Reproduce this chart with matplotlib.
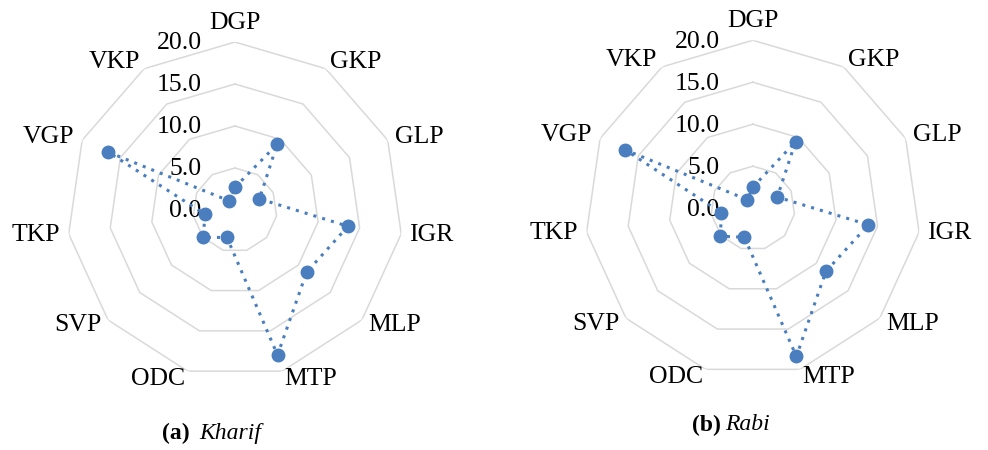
import numpy as np
import matplotlib.pyplot as plt

plt.rcParams['font.family'] = ['Liberation Serif', 'DejaVu Serif']

# Sites (clockwise from top)
sites = ['DGP', 'GKP', 'GLP', 'IGR', 'MLP', 'MTP', 'ODC', 'SVP', 'TKP', 'VGP', 'VKP']

# values
kharif = [2.7, 9.3, 3.2, 13.6, 11.3, 18.0, 3.4, 5.0, 3.6, 16.6, 1.3]
rabi = [2.5, 9.4, 3.2, 13.9, 11.5, 18.4, 3.6, 5.1, 3.8, 16.7, 1.2]

rings = [0, 5, 10, 15, 20]
ring_labels = ['0.0', '5.0', '10.0', '15.0', '20.0']

blue = '#4A7EBF'
grid_col = '#D9D9D9'

fig = plt.figure(figsize=(9.88, 4.5), dpi=100)

n = len(sites)
theta = np.linspace(0, 2 * np.pi, n, endpoint=False)


def radar(ax, vals):
    ax.set_theta_zero_location('N')
    ax.set_theta_direction(-1)
    ax.set_ylim(0, 20)
    ax.grid(False)
    ax.spines['polar'].set_visible(False)
    ax.set_xticks([])
    ax.set_yticks([])
    ax.patch.set_alpha(0)

    # polygon grid rings
    th_closed = np.append(theta, theta[0])
    for r in rings[1:]:
        ax.plot(th_closed, [r] * (n + 1), color=grid_col, lw=1.1, zorder=1)

    # ring labels left of the top axis
    for r, lab in zip(rings, ring_labels):
        ax.annotate(lab, xy=(0, r), xytext=(-24, -1), textcoords='offset points',
                    ha='right', va='center', fontsize=18.5, zorder=2)

    # category labels
    for t, s in zip(theta, sites):
        deg = np.degrees(t)
        if deg < 1:
            ax.text(t, 22.3, s, ha='center', va='center', fontsize=18.5)
        elif deg < 180:
            ax.text(t, 21, s, ha='left', va='center', fontsize=18.5)
        else:
            ax.text(t, 21, s, ha='right', va='center', fontsize=18.5)

    v = np.append(vals, vals[0])
    ax.plot(th_closed, v, color=blue, lw=2.2, linestyle=(0, (1, 2)),
            zorder=3, clip_on=False)
    ax.plot(theta, vals, 'o', color=blue, markersize=9, zorder=4, clip_on=False)


ax1 = fig.add_axes([0.0678, 0.16, 0.340, 0.7467], projection='polar')
radar(ax1, kharif)
ax2 = fig.add_axes([0.592, 0.164, 0.340, 0.7467], projection='polar')
radar(ax2, rabi)

fig.text(162 / 988, 1 - 433 / 450, '(a)', fontsize=17, fontweight='bold',
         ha='left', va='center')
fig.text(199 / 988, 1 - 433 / 450, 'Kharif', fontsize=17, fontstyle='italic',
         ha='left', va='center')
fig.text(692 / 988, 1 - 425 / 450, '(b)', fontsize=17, fontweight='bold',
         ha='left', va='center')
fig.text(725 / 988, 1 - 425 / 450, 'Rabi', fontsize=17, fontstyle='italic',
         ha='left', va='center')

fig.savefig('out.png', dpi=100)
